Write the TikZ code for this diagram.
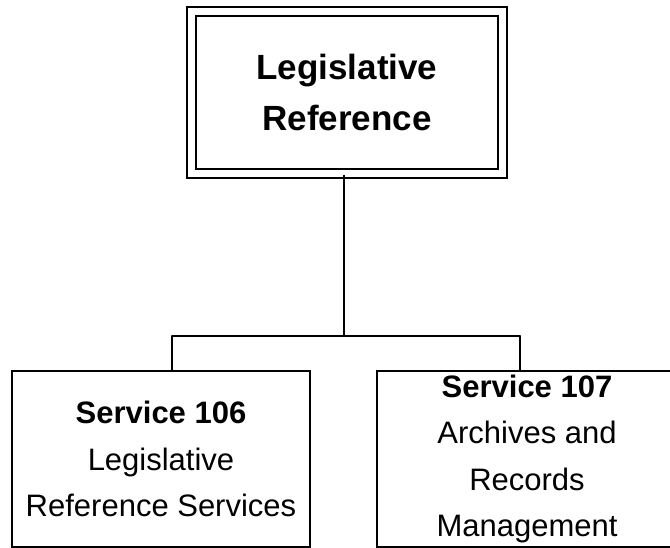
\documentclass[tikz,border=0pt]{standalone}
\usepackage{fontspec}
\setmainfont{Liberation Sans}
\usepackage{tkz-euclide}

\tikzset{
  headbox/.style={draw, double, line width=2pt, double distance=7pt,
    minimum width=310.5pt, minimum height=162.5pt, inner sep=0pt,
    align=center, font=\bfseries\fontsize{35}{51}\selectfont},
  servicebox/.style={draw, line width=2pt, minimum height=176pt,
    inner sep=0pt, align=center, font=\fontsize{31}{46.5}\selectfont}
}

\begin{document}
\begin{tikzpicture}[x=1pt,y=-1pt]
        \useasboundingbox (0,0) rectangle (670,548);
        \clip (0,0) rectangle (670,548);

        \tkzDefPoint(344,336){J};
        \tkzDefPoint(172,336){L};
        \tkzDefPoint(520,336){R};

        \node[headbox] (leg) at (347,92.75) {Legislative\\Reference};
        \node[servicebox, minimum width=298pt] (s106) at (161,459)
            {\textbf{Service 106}\\Legislative\\Reference Services};
        \node[servicebox, minimum width=300pt] (s107) at (527,459)
            {\textbf{Service 107}\\Archives and\\Records\\Management};

        \draw[line width=2pt] (leg.south -| J) -- (J);
        \tkzDrawSegment[line width=2pt](L,R);
        \draw[line width=2pt] (L) -- (L |- s106.north);
        \draw[line width=2pt] (R) -- (R |- s107.north);
    \end{tikzpicture}
\end{document}
